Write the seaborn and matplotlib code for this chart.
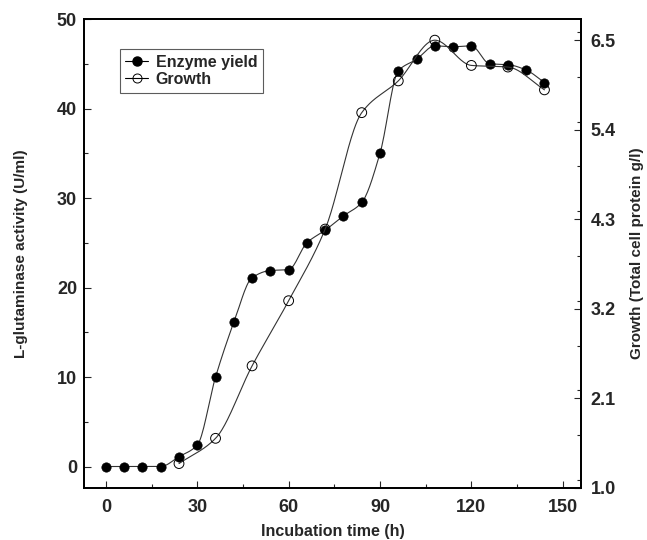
import numpy as np
import pandas as pd
import matplotlib
matplotlib.use("Agg")
import matplotlib.pyplot as plt
from matplotlib.lines import Line2D
from matplotlib.ticker import MultipleLocator, FixedLocator
import seaborn as sns

# data
enzyme_time = [0, 6, 12, 18, 24, 30, 36, 42, 48, 54, 60, 66, 72, 78, 84, 90,
               96, 102, 108, 114, 120, 126, 132, 138, 144]
enzyme_yield = [0, 0, 0, 0, 1.1, 2.4, 10.0, 16.1, 21.1, 21.9, 22.0, 25.0, 26.4,
                28.0, 29.5, 35.0, 44.2, 45.5, 47.0, 46.9, 47.0, 45.0, 44.9, 44.3, 42.9]
growth_time = [24, 36, 48, 60, 72, 84, 96, 108, 120, 132, 144]
growth_val = [1.30, 1.61, 2.50, 3.30, 4.18, 5.61, 6.00, 6.50, 6.19, 6.17, 5.89]
right_ticks = [1.0, 2.1, 3.2, 4.3, 5.4, 6.5]


def pchip(x, y, n=400):
    # monotone cubic curve through the points (for the smooth connecting line)
    x = np.asarray(x, float)
    y = np.asarray(y, float)
    h = np.diff(x)
    d = np.diff(y) / h
    m = np.zeros_like(y)
    for i in range(1, len(y) - 1):
        if d[i - 1] * d[i] > 0:
            w1 = 2 * h[i] + h[i - 1]
            w2 = h[i] + 2 * h[i - 1]
            m[i] = (w1 + w2) / (w1 / d[i - 1] + w2 / d[i])
    m[0] = d[0]
    m[-1] = d[-1]
    xs = np.linspace(x[0], x[-1], n)
    idx = np.clip(np.searchsorted(x, xs) - 1, 0, len(x) - 2)
    t = (xs - x[idx]) / h[idx]
    h00 = 2 * t**3 - 3 * t**2 + 1
    h10 = t**3 - 2 * t**2 + t
    h01 = -2 * t**3 + 3 * t**2
    h11 = t**3 - t**2
    ys = (h00 * y[idx] + h10 * h[idx] * m[idx] + h01 * y[idx + 1]
          + h11 * h[idx] * m[idx + 1])
    return xs, ys


sns.set_style("ticks")
plt.rcParams['font.family'] = ['Liberation Sans Narrow', 'Liberation Sans', 'DejaVu Sans']
plt.rcParams['font.weight'] = 'bold'

fig = plt.figure(figsize=(6.47, 5.4), dpi=100)
ax = fig.add_axes([0.1298, 0.0963, 0.7682, 0.8685])
ax2 = ax.twinx()

# enzyme yield (left axis)
ex, ey = pchip(enzyme_time, enzyme_yield)
sns.lineplot(x=ex, y=ey, ax=ax, color='#333333', lw=0.8, zorder=2)
sns.scatterplot(x=enzyme_time, y=enzyme_yield, ax=ax, color='black', s=45,
                edgecolor='black', linewidth=0.5, zorder=3)

# growth (right axis)
gx, gy = pchip(growth_time, growth_val)
sns.lineplot(x=gx, y=gy, ax=ax2, color='#333333', lw=0.8, zorder=2)
sns.scatterplot(x=growth_time, y=growth_val, ax=ax2, facecolor='none',
                edgecolor='black', linewidth=0.7, s=50, zorder=3)

ax.set_xlim(-7.2, 156)
ax.set_ylim(-2.4, 50)
ax2.set_ylim(1.0, 6.76)

ax.xaxis.set_major_locator(MultipleLocator(30))
ax.xaxis.set_minor_locator(MultipleLocator(15))
ax.yaxis.set_major_locator(MultipleLocator(10))
ax.yaxis.set_minor_locator(MultipleLocator(5))
ax2.yaxis.set_major_locator(FixedLocator(right_ticks))
ax2.yaxis.set_minor_locator(MultipleLocator(0.55))
ax2.set_yticklabels([f"{v:.1f}" for v in right_ticks])

for a in (ax, ax2):
    a.tick_params(which='both', direction='in', labelsize=13, width=0.8)
    a.tick_params(which='major', length=5)
    a.tick_params(which='minor', length=3)
    for s in a.spines.values():
        s.set_visible(True)
        s.set_linewidth(1.3)
        s.set_color('black')
ax.tick_params(axis='y', pad=5)
ax2.tick_params(axis='y', pad=7)
ax.tick_params(axis='x', pad=8)

ax.set_xlabel('Incubation time (h)', fontsize=11.5, fontweight='bold')
ax.set_ylabel('L-glutaminase activity (U/ml)', fontsize=11, fontweight='bold')
ax2.set_ylabel('Growth (Total cell protein g/l)', fontsize=11, fontweight='bold')
ax.xaxis.set_label_coords(0.5, -0.077)
ax.yaxis.set_label_coords(-0.112, 0.5)
ax2.yaxis.set_label_coords(1.098, 0.5)

handles = [
    Line2D([], [], color='black', lw=0.8, marker='o', markersize=6.5,
           markerfacecolor='black', label='Enzyme yield'),
    Line2D([], [], color='black', lw=0.8, marker='o', markersize=6.5,
           markerfacecolor='none', markeredgewidth=0.7, label='Growth'),
]
leg = ax.legend(handles=handles, loc='upper left', bbox_to_anchor=(0.072, 0.936),
                fontsize=11.5, frameon=True, fancybox=False, handlelength=1.4,
                handletextpad=0.5, borderpad=0.35, labelspacing=0.15,
                borderaxespad=0)
leg.get_frame().set_edgecolor('#333333')
leg.get_frame().set_linewidth(0.8)
if ax2.get_legend():
    ax2.get_legend().remove()

fig.savefig('out.png', dpi=100)
